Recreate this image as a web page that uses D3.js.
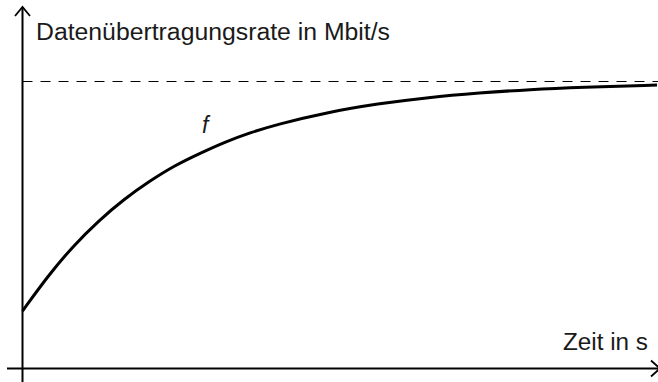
<!DOCTYPE html>
<html>
<head>
<meta charset="utf-8">
<script src="https://cdn.jsdelivr.net/npm/d3@7"></script>
<style>
  body { margin: 0; background: #fff; }
  text { font-family: "Liberation Sans", Arial, sans-serif; fill: #1a1a1a; }
</style>
</head>
<body>
<script>
// values (t in s, f in Mbit/s)
var tValues = [0, 1, 2, 3, 4, 5, 6, 7, 8, 9, 10, 12, 14, 16, 18, 20, 22, 25];
var fValues = [8.0, 12.9, 17.1, 20.6, 23.6, 26.1, 28.3, 30.0, 31.6, 32.9, 34.0, 35.7, 36.9, 37.8, 38.4, 38.9, 39.2, 39.5];
var limit = 40;

var yLabel = "Datenübertragungsrate in Mbit/s";
var xLabel = "Zeit in s";
var curveLabel = "f";

var width = 658;
var height = 382;

var svg = d3.select("body")
    .append("svg")
    .attr("width", width)
    .attr("height", height);

var x = d3.scaleLinear()
    .domain([0, 25])
    .range([22.5, 657]);

var y = d3.scaleLinear()
    .domain([0, 40])
    .range([368.5, 81.5]);

var data = tValues.map(function(t, i) { return [t, fValues[i]]; });

// dashed asymptote
svg.append("line")
    .attr("x1", x(0))
    .attr("x2", width)
    .attr("y1", y(limit))
    .attr("y2", y(limit))
    .attr("stroke", "#000")
    .attr("stroke-width", 1)
    .attr("stroke-dasharray", "10,8");

// axes
svg.append("line")
    .attr("x1", 7)
    .attr("x2", 659)
    .attr("y1", y(0))
    .attr("y2", y(0))
    .attr("stroke", "#000")
    .attr("stroke-width", 2);

svg.append("line")
    .attr("x1", x(0))
    .attr("x2", x(0))
    .attr("y1", height)
    .attr("y2", 7)
    .attr("stroke", "#000")
    .attr("stroke-width", 2);

// arrow heads
svg.append("path")
    .attr("d", "M" + (x(0) - 7.5) + ",16 L" + x(0) + ",7 L" + (x(0) + 7.5) + ",16")
    .attr("fill", "none")
    .attr("stroke", "#000")
    .attr("stroke-width", 1.8);

svg.append("path")
    .attr("d", "M651," + (y(0) - 8) + " L660," + y(0) + " L651," + (y(0) + 8))
    .attr("fill", "none")
    .attr("stroke", "#000")
    .attr("stroke-width", 1.8);

// the curve f
var line = d3.line()
    .x(function(d) { return x(d[0]); })
    .y(function(d) { return y(d[1]); })
    .curve(d3.curveBasis);

svg.append("path")
    .datum(data)
    .attr("d", line)
    .attr("fill", "none")
    .attr("stroke", "#000")
    .attr("stroke-width", 3);

// labels
svg.append("text")
    .attr("x", 36)
    .attr("y", 40)
    .attr("font-size", 23)
    .attr("textLength", 354)
    .attr("lengthAdjust", "spacingAndGlyphs")
    .text(yLabel);

svg.append("text")
    .attr("x", 563)
    .attr("y", 350)
    .attr("font-size", 23)
    .attr("textLength", 85)
    .attr("lengthAdjust", "spacingAndGlyphs")
    .text(xLabel);

svg.append("text")
    .attr("x", 202)
    .attr("y", 133)
    .attr("font-size", 23)
    .attr("font-style", "italic")
    .text(curveLabel);
</script>
</body>
</html>
